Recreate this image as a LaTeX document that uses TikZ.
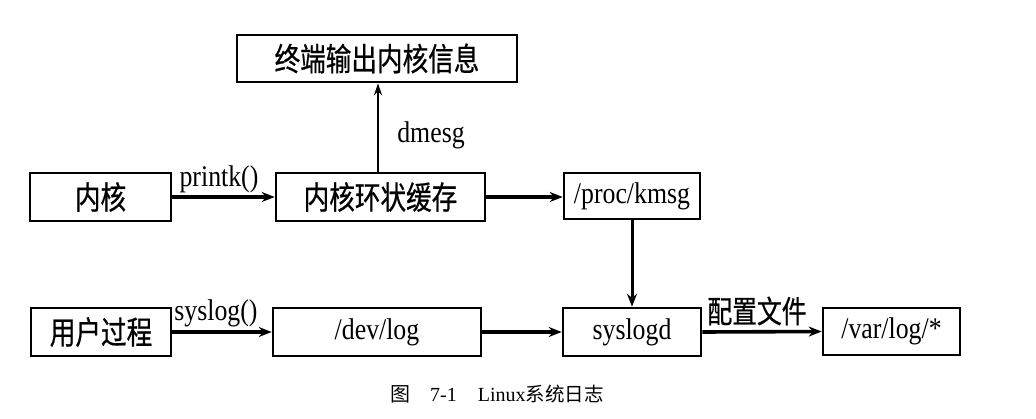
\documentclass[tikz,border=0pt]{standalone}
\usepackage{fontspec}
\setmainfont{Liberation Serif}
\newfontfamily\latf[FakeStretch=0.86]{Liberation Serif}
\newfontfamily\cjkf[FakeStretch=0.8,FakeBold=0.6]{Noto Sans CJK SC}
\newfontfamily\capcjk{Noto Sans CJK SC}
\usetikzlibrary{arrows.meta}
\tikzset{
  boxn/.style={draw=black, line width=2.6pt, rectangle, inner sep=0pt, fill=white},
  cjktxt/.style={font=\cjkf\fontsize{32}{34}\selectfont},
  lattxt/.style={font=\latf\fontsize{30}{32}\selectfont},
  conn/.style={line width=3.6pt, -{Stealth[length=13pt,width=10pt]}},
  thinconn/.style={line width=2pt, -{Stealth[length=12pt,width=8pt]}},
  lbl/.style={inner sep=0pt}
}
\begin{document}
\begin{tikzpicture}[x=1pt,y=-1pt]
\useasboundingbox (0,0) rectangle (1036,418);
\fill[white] (0,0) rectangle (1036,418);
% boxes
\node[boxn, cjktxt, minimum width=280pt, minimum height=47pt] (term) at (377,58.5) {终端输出内核信息};
\node[boxn, cjktxt, minimum width=141pt, minimum height=48pt] (kern) at (100.5,197) {内核};
\node[boxn, cjktxt, minimum width=209pt, minimum height=48pt] (ring) at (380.5,197) {内核环状缓存};
\node[boxn, lattxt, minimum width=136pt, minimum height=46pt] (kmsg) at (632,196) {/proc/kmsg};
\node[boxn, cjktxt, minimum width=140pt, minimum height=48pt] (user) at (101,332) {用户过程};
\node[boxn, lattxt, minimum width=208pt, minimum height=48pt] (dev) at (377,332) {/dev/log};
\node[boxn, lattxt, minimum width=138pt, minimum height=48pt] (sysd) at (632,332) {syslogd};
\node[boxn, lattxt, minimum width=137pt, minimum height=47pt] (var) at (891.5,331.5) {/var/log/*};
% connectors
\draw[conn] (kern.east) -- (ring.west);
\draw[conn] (ring.east) -- (kmsg.west |- ring.east);
\draw[thinconn] (ring.north -| 378,0) -- (term.south -| 378,0);
\draw[line width=3pt, -{Stealth[length=13pt,width=10pt]}] (kmsg.south) -- (sysd.north);
\draw[conn] (user.east) -- (dev.west);
\draw[conn] (dev.east) -- (sysd.west);
\draw[conn] (sysd.east) -- (var.west);
% labels
\node[lbl, lattxt] (lprintk) at (219,179) {printk()};
\node[lbl, lattxt] (ldmesg) at (431,135) {dmesg};
\node[lbl, lattxt] (lsyslog) at (216,313) {syslog()};
\node[lbl, font=\cjkf\fontsize{31}{33}\selectfont] (lconf) at (757,311) {配置文件};
% caption
\node[lbl, anchor=west, font=\fontsize{20}{22}\selectfont] (cap) at (390,394)
  {{\capcjk 图}\hspace{20pt}7-1\hspace{21pt}Linux{\capcjk\fontsize{19.5}{22}\selectfont 系统日志}};
\end{tikzpicture}
\end{document}
